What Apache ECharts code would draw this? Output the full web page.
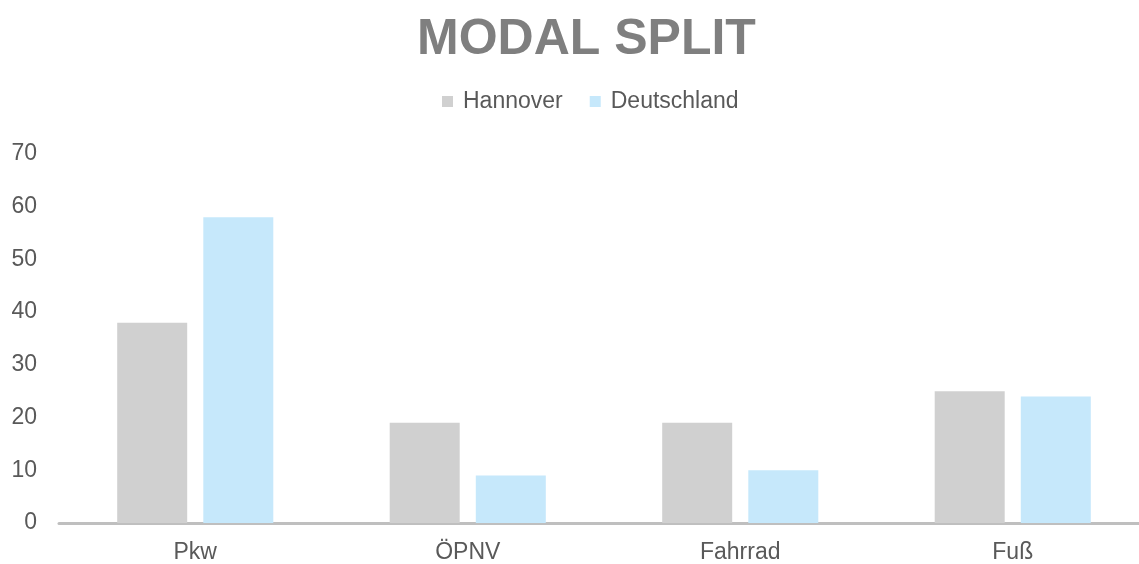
<!DOCTYPE html>
<html>
<head>
<meta charset="utf-8">
<script src="https://cdn.jsdelivr.net/npm/echarts@6/dist/echarts.min.js"></script>
<style>
html, body { margin: 0; padding: 0; background: #fff; overflow: hidden; }
/* etwas breiter als das Fenster: die letzte Kategorie reicht im Original über den Rand */
#chart { width: 1149px; height: 564px; }
</style>
</head>
<body>
<div id="chart"></div>
<script>
// Daten
var categories = ['Pkw', 'ÖPNV', 'Fahrrad', 'Fuß'];
var hannover = [38, 19, 19, 25];
var deutschland = [58, 9, 10, 24];
var yTicks = [0, 10, 20, 30, 40, 50, 60, 70];

var font = 'Liberation Sans, Arial, sans-serif';
var chart = echarts.init(document.getElementById('chart'));

var option = {
  backgroundColor: '#fff',
  textStyle: { fontFamily: font },
  title: {
    text: 'MODAL SPLIT',
    left: 412,
    top: 10,
    textStyle: { fontSize: 50, fontWeight: 'bold', color: '#7f7f7f', fontFamily: font }
  },
  legend: {
    data: ['Hannover', 'Deutschland'],
    left: 442,
    top: 90,
    padding: 0,
    itemWidth: 11,
    itemHeight: 11,
    itemGap: 27,
    icon: 'rect',
    textStyle: { fontSize: 23, color: '#595959', fontFamily: font, padding: [0, 0, 0, 5] }
  },
  grid: { left: 59, right: 0, top: 154, bottom: 38, containLabel: false },
  xAxis: {
    type: 'category',
    data: categories,
    axisLine: { lineStyle: { color: '#bfbfbf', width: 3 } },
    axisTick: { show: false },
    axisLabel: { fontSize: 23, color: '#595959', margin: 18, fontFamily: font }
  },
  yAxis: {
    type: 'value',
    min: yTicks[0],
    max: yTicks[yTicks.length - 1],
    interval: 10,
    axisLine: { show: false },
    axisTick: { show: false },
    splitLine: { show: false },
    axisLabel: { fontSize: 23, color: '#595959', margin: 22, fontFamily: font }
  },
  series: [
    {
      name: 'Hannover',
      type: 'bar',
      data: hannover,
      barWidth: 70,
      barGap: '23%',
      itemStyle: { color: '#d0d0d0' }
    },
    {
      name: 'Deutschland',
      type: 'bar',
      data: deutschland,
      barWidth: 70,
      barGap: '23%',
      itemStyle: { color: '#c6e8fb' }
    }
  ]
};
chart.setOption(option);
</script>
</body>
</html>
